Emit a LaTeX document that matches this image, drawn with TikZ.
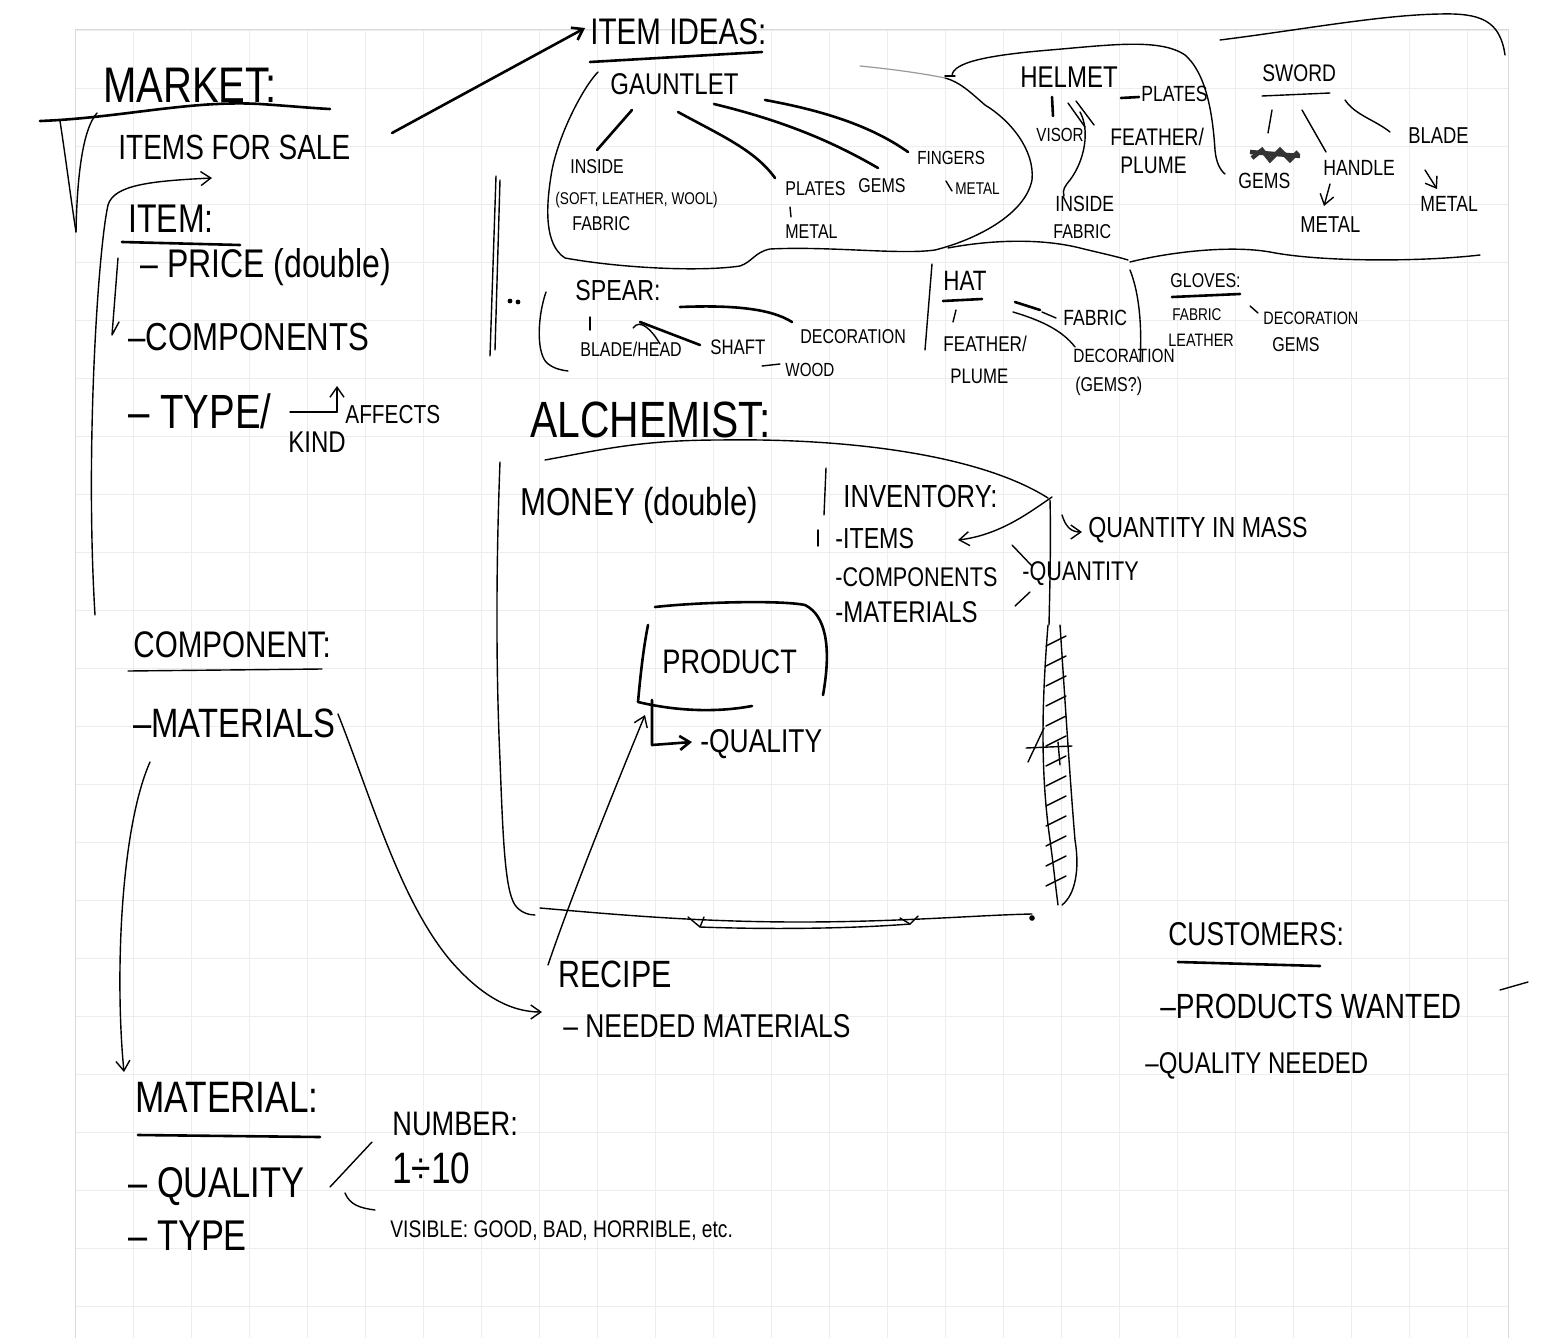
\documentclass[tikz,border=0pt]{standalone}
\usepackage{fontspec}
\setmainfont{Liberation Sans}[FakeStretch=0.8]
\usetikzlibrary{arrows.meta}
\newcommand\fsz[1]{\fontsize{#1}{#1}\selectfont}
\begin{document}
\begin{tikzpicture}[x=0.5pt,y=-0.5pt,
 lbl/.style={anchor=base west,inner sep=0pt,font=\fsz{#1}},
 pen/.style={line width=1.3pt,line cap=round,line join=round},
 fine/.style={line width=0.7pt,line cap=round,line join=round},
 faint/.style={line width=0.6pt,black!40,line cap=round},
 gridc/.style={line width=0.3pt,black!7},
 tip/.style={-{Straight Barb[length=5pt,width=7pt]}},
]
\useasboundingbox (0,0) rectangle (1558,1338);
\fill[white] (0,0) rectangle (1558,1338);
\foreach \gx in {75,133,...,1508} \draw[gridc] (\gx,30) -- (\gx,1338);
\foreach \gy in {30,88,...,1338} \draw[gridc] (75,\gy) -- (1508,\gy);
\draw[black!15,line width=0.5pt] (75,1338) -- (75,30) -- (1508,30) -- (1508,1338);

% ---------------- MARKET ----------------
\node[lbl=25] (market) at (103,103) {MARKET:};
\draw[pen] (40,121) .. controls (120,118) and (190,100) .. (260,104) .. controls (290,106) and (310,108) .. (330,109);
\draw[fine] (60,121) .. controls (66,160) and (71,200) .. (76,232);
\draw[fine] (97,113) .. controls (82,130) and (77,180) .. (76,232);
\node[lbl=17.5] (sale) at (118,160) {ITEMS FOR SALE};
\coordinate (saleA) at (392,133);
\coordinate (ideasA) at (585,28);
\draw[pen,tip] (saleA) -- (ideasA);
\coordinate (longA) at (95,615);
\coordinate (longB) at (212,178);
\draw[fine,tip] (longA) .. controls (85,450) and (98,250) .. (108,205) .. controls (114,185) and (150,181) .. (longB);
\node[lbl=20] (item) at (128,232) {ITEM:};
\draw[pen] (122,242) -- (240,245);
\draw[fine] (118,258) -- (112,335) -- (119,322);
\node[lbl=20] (price) at (140,277) {– PRICE (double)};
\node[lbl=19.5] (comps) at (128,350) {–COMPONENTS};
\node[lbl=24] (type) at (128,428) {– TYPE/};
\node[lbl=15] (kind) at (288,452) {KIND};
\node[lbl=13] (affects) at (345,423) {AFFECTS};
\coordinate (affA) at (290,412);
\coordinate (affB) at (337,412);
\coordinate (affC) at (337,386);
\draw[fine] (affA) -- (affB);
\draw[fine,tip] (affB) -- (affC);

% ---------------- ITEM IDEAS ----------------
\node[lbl=18.5] (ideas) at (590,45) {ITEM IDEAS:};
\draw[pen] (590,62) -- (762,52);
% gauntlet blob
\draw[fine] (598,72) .. controls (585,85) and (560,130) .. (552,170) .. controls (545,210) and (545,245) .. (565,258)
  .. controls (620,268) and (700,272) .. (740,266) .. controls (752,262) and (755,252) .. (770,249)
  .. controls (830,246) and (900,255) .. (935,250) .. controls (975,240) and (1025,215) .. (1032,180)
  .. controls (1035,150) and (1010,120) .. (985,105) .. controls (970,92) and (960,82) .. (945,78);
\draw[faint] (860,66) .. controls (900,70) and (925,74) .. (945,78);
\node[lbl=15] (gaunt) at (610,95) {GAUNTLET};
\node[lbl=10] (ginside) at (570,173) {INSIDE};
\node[lbl=8.5] (gsoft) at (555,205) {(SOFT, LEATHER, WOOL)};
\node[lbl=10] (gfabric) at (572,230) {FABRIC};
\node[lbl=10] (gplates) at (785,195) {PLATES};
\node[lbl=10] (gmetal) at (785,238) {METAL};
\node[lbl=10] (ggems) at (858,192) {GEMS};
\node[lbl=9.5] (gfingers) at (917,164) {FINGERS};
\node[lbl=8.5] (gfmetal) at (955,194) {METAL};
\coordinate (g1a) at (632,110); \coordinate (g1b) at (597,150);
\coordinate (g2a) at (678,112); \coordinate (g2b) at (775,178);
\coordinate (g3a) at (714,104); \coordinate (g3b) at (878,168);
\coordinate (g4a) at (765,100); \coordinate (g4b) at (908,152);
\draw[pen] (g1a) -- (g1b);
\draw[pen] (g2a) .. controls (720,135) and (755,150) .. (g2b);
\draw[pen] (g3a) .. controls (780,120) and (830,140) .. (g3b);
\draw[pen] (g4a) .. controls (820,110) and (870,125) .. (g4b);
\draw[fine] (790,207) -- (791,217);
\draw[fine] (946,181) -- (952,191);

% ---------------- HELMET ----------------
\draw[fine] (945,76) -- (955,76);
\draw[fine] (952,76) .. controls (952,62) and (990,55) .. (1050,50) .. controls (1110,45) and (1160,38) .. (1185,55)
  .. controls (1208,75) and (1213,120) .. (1215,150) .. controls (1216,162) and (1220,170) .. (1225,174);
\node[lbl=15] (helmet) at (1020,88) {HELMET};
\draw[pen] (1121,98) -- (1139,97);
\node[lbl=11] (hplates) at (1141,102) {PLATES};
\node[lbl=9.5] (hvisor) at (1036,141) {VISOR};
\node[lbl=12] (hfeather) at (1110,146) {FEATHER/};
\node[lbl=12] (hplume) at (1120,174) {PLUME};
\node[lbl=11] (hinside) at (1055,212) {INSIDE};
\node[lbl=10] (hfabric) at (1053,238) {FABRIC};
\coordinate (h1a) at (1052,97); \coordinate (h1b) at (1053,116);
\draw[pen] (h1a) -- (h1b);
\draw[fine] (1068,103) -- (1085,127);
\draw[fine] (1076,101) -- (1094,125);
\draw[fine] (1080,112) .. controls (1090,130) and (1085,160) .. (1070,180) .. controls (1065,186) and (1062,190) .. (1064,196);
% bottom lines of top region
\draw[fine] (948,248) .. controls (990,240) and (1040,238) .. (1080,248) .. controls (1100,253) and (1115,256) .. (1128,260);
\draw[fine] (1130,262) .. controls (1170,252) and (1230,245) .. (1270,252) .. controls (1320,262) and (1420,262) .. (1480,255);

% ---------------- SWORD ----------------
\draw[fine] (1220,40) .. controls (1300,30) and (1380,15) .. (1440,14) .. controls (1480,13) and (1500,20) .. (1505,55);
\node[lbl=12] (sword) at (1262,82) {SWORD};
\draw[fine] (1262,96) -- (1330,93);
\node[lbl=11] (sgems) at (1238,188) {GEMS};
\draw[line width=2.2pt,black!80] (1252,158) -- (1262,150) -- (1270,160) -- (1280,150) -- (1290,160) -- (1298,152);
\draw[line width=2.2pt,black!80] (1250,152) -- (1300,156);
\node[lbl=11] (shandle) at (1323,176) {HANDLE};
\node[lbl=11.5] (smetal) at (1300,232) {METAL};
\node[lbl=11.5] (sblade) at (1408,143) {BLADE};
\node[lbl=11] (sbmetal) at (1420,212) {METAL};
\coordinate (s1a) at (1272,110); \coordinate (s1b) at (1268,133);
\coordinate (s2a) at (1302,110); \coordinate (s2b) at (1326,152);
\coordinate (s3a) at (1345,100); \coordinate (s3b) at (1390,132);
\draw[fine] (s1a) -- (s1b);
\draw[fine] (s2a) -- (s2b);
\draw[fine] (s3a) .. controls (1355,115) and (1375,120) .. (s3b);
\coordinate (s4a) at (1330,184); \coordinate (s4b) at (1324,206);
\draw[fine,tip] (s4a) -- (s4b);
\coordinate (s5a) at (1425,170); \coordinate (s5b) at (1437,189);
\draw[fine,tip] (s5a) -- (s5b);

% ---------------- SPEAR / HAT / GLOVES ----------------
\draw[fine] (496,176) -- (490,356);
\draw[fine] (500,180) -- (495,350);
\fill (510,301) circle (1.2pt);
\fill (518,302) circle (1.2pt);
\draw[fine] (546,292) .. controls (538,315) and (536,350) .. (546,362) .. controls (552,368) and (560,370) .. (568,371);
\node[lbl=14.5] (spear) at (575,300) {SPEAR:};
\node[lbl=10] (blade) at (580,356) {BLADE/HEAD};
\node[lbl=10.5] (shaft) at (710,354) {SHAFT};
\node[lbl=9.5] (wood) at (785,376) {WOOD};
\node[lbl=10] (sdeco) at (800,343) {DECORATION};
\draw[fine] (590,317) -- (590,330);
\draw[pen] (640,322) -- (700,345);
\draw[fine] (633,328) .. controls (640,318) and (652,330) .. (660,344);
\draw[fine] (762,366) -- (780,364);
\draw[pen] (680,307) .. controls (730,305) and (770,308) .. (792,322);
\draw[fine] (932,264) -- (925,350);
\node[lbl=14] (hat) at (943,290) {HAT};
\draw[pen] (943,301) -- (982,299);
\draw[fine] (956,310) -- (953,322);
\node[lbl=10.7] (hfeath2) at (943,351) {FEATHER/};
\node[lbl=10.5] (hplume2) at (950,383) {PLUME};
\node[lbl=11] (hatfab) at (1063,325) {FABRIC};
\node[lbl=9.6] (hatdeco) at (1073,362) {DECORATION};
\node[lbl=10] (hatgems) at (1075,391) {(GEMS?)};
\draw[pen] (1015,302) -- (1040,310);
\draw[fine] (1042,312) -- (1056,318);
\draw[fine] (1013,312) .. controls (1040,320) and (1062,330) .. (1075,347);
\draw[fine] (1130,270) .. controls (1140,295) and (1142,330) .. (1140,362);
\node[lbl=10] (gloves) at (1170,287) {GLOVES:};
\draw[pen] (1172,297) -- (1240,294);
\node[lbl=8.5] (glfab) at (1172,320) {FABRIC};
\node[lbl=9] (glleath) at (1168,346) {LEATHER};
\node[lbl=9] (gldeco) at (1263,324) {DECORATION};
\node[lbl=10] (glgems) at (1272,351) {GEMS};
\draw[fine] (1250,306) -- (1258,313);

% ---------------- ALCHEMIST ----------------
\node[lbl=25.5] (alch) at (530,437) {ALCHEMIST:};
\draw[fine] (545,460) .. controls (600,450) and (640,440) .. (720,440) .. controls (850,438) and (980,455) .. (1048,498);
\draw[fine] (500,462) .. controls (497,540) and (495,650) .. (500,760) .. controls (503,840) and (505,890) .. (515,905) .. controls (520,912) and (528,915) .. (535,915);
\draw[fine] (540,908) .. controls (620,915) and (700,922) .. (800,922) .. controls (900,922) and (980,915) .. (1032,914);
\draw[fine] (700,927) .. controls (780,930) and (860,928) .. (910,924);
\draw[fine] (688,917) -- (700,927) -- (704,917);
\draw[fine] (900,918) -- (910,924) -- (918,916);
\fill (1032,918) circle (1.4pt);
\draw[fine] (1050,500) .. controls (1051,540) and (1050,580) .. (1049,625);
\draw[fine] (1048,625) .. controls (1042,700) and (1040,770) .. (1050,840) .. controls (1054,870) and (1056,890) .. (1058,905);
\draw[fine] (1060,625) .. controls (1065,700) and (1070,780) .. (1075,840) .. controls (1080,870) and (1075,895) .. (1062,905);
\foreach \hy in {640,660,...,880} \draw[fine] (1046,\hy+6) -- (1066,\hy-4);
\draw[fine] (1028,762) -- (1044,728);
\draw[fine] (1026,748) -- (1072,746);
\draw[fine] (1058,742) -- (1060,765);
\node[lbl=19.5] (money) at (520,515) {MONEY (double)};
\draw[fine] (826,468) -- (824,515);
\node[lbl=16] (inv) at (843,507) {INVENTORY:};
\draw[fine] (818,530) -- (818,546);
\node[lbl=14.5] (iitems) at (835,548) {-ITEMS};
\node[lbl=13.5] (icomps) at (835,586) {-COMPONENTS};
\node[lbl=15] (imats) at (835,622) {-MATERIALS};
\node[lbl=13.5] (qty) at (1022,580) {-QUANTITY};
\node[lbl=14.5] (qmass) at (1088,537) {QUANTITY IN MASS};
\coordinate (invA) at (1052,497);
\coordinate (invB) at (958,540);
\draw[fine,tip] (invA) .. controls (1030,512) and (1000,535) .. (invB);
\draw[fine] (1012,545) -- (1032,566);
\draw[fine] (1015,606) -- (1030,592);
\coordinate (qmA) at (1062,515);
\coordinate (qmB) at (1082,532);
\draw[fine,tip] (qmA) .. controls (1066,528) and (1072,532) .. (qmB);

% product
\draw[pen] (655,607) .. controls (700,602) and (780,600) .. (805,605) .. controls (825,615) and (832,645) .. (823,695);
\draw[pen] (648,625) .. controls (643,650) and (640,680) .. (638,702) .. controls (680,712) and (720,712) .. (752,706);
\node[lbl=17] (product) at (662,673) {PRODUCT};
\node[lbl=16.5] (pquality) at (700,752) {-QUALITY};
\coordinate (pqA) at (652,700);
\coordinate (pqB) at (652,745);
\coordinate (pqC) at (692,742);
\draw[pen,tip] (pqA) -- (pqB) -- (pqC);

% ---------------- RECIPE ----------------
\node[lbl=19] (recipe) at (558,987) {RECIPE};
\node[lbl=16.5] (needed) at (563,1037) {– NEEDED MATERIALS};
\coordinate (recA) at (548,965);
\coordinate (recB) at (645,715);
\draw[fine,tip] (recA) .. controls (570,900) and (610,800) .. (recB);

% ---------------- COMPONENT / MATERIAL ----------------
\node[lbl=18.5] (component) at (133,657) {COMPONENT:};
\draw[fine] (128,671) -- (322,669);
\node[lbl=20.5] (cmats) at (133,737) {–MATERIALS};
\coordinate (cmA) at (150,762);
\coordinate (cmB) at (124,1072);
\draw[fine,tip] (cmA) .. controls (120,830) and (115,980) .. (cmB);
\coordinate (crA) at (338,714);
\coordinate (crB) at (542,1012);
\draw[fine,tip] (crA) .. controls (372,800) and (400,900) .. (450,960) .. controls (480,995) and (510,1012) .. (crB);
\node[lbl=22] (material) at (135,1112) {MATERIAL:};
\draw[pen] (138,1135) -- (320,1137);
\node[lbl=21.5] (mqual) at (128,1197) {– QUALITY};
\node[lbl=21.5] (mtype) at (128,1250) {– TYPE};
\node[lbl=17] (number) at (392,1135) {NUMBER:};
\node[lbl=22] (range) at (392,1183) {1÷10};
\node[lbl=12] (visible) at (390,1237) {VISIBLE: GOOD, BAD, HORRIBLE, etc.};
\coordinate (mqA) at (330,1187); \coordinate (mqB) at (372,1142);
\coordinate (mqC) at (345,1193); \coordinate (mqD) at (375,1210);
\draw[fine] (mqA) -- (mqB);
\draw[fine] (mqC) .. controls (350,1205) and (360,1208) .. (mqD);

% ---------------- CUSTOMERS ----------------
\node[lbl=16.5] (cust) at (1168,945) {CUSTOMERS:};
\draw[pen] (1178,962) -- (1320,966);
\node[lbl=17.5] (pwanted) at (1160,1018) {–PRODUCTS WANTED};
\node[lbl=15] (qneeded) at (1145,1073) {–QUALITY NEEDED};
\draw[fine] (1500,990) -- (1528,982);
\end{tikzpicture}
\end{document}
